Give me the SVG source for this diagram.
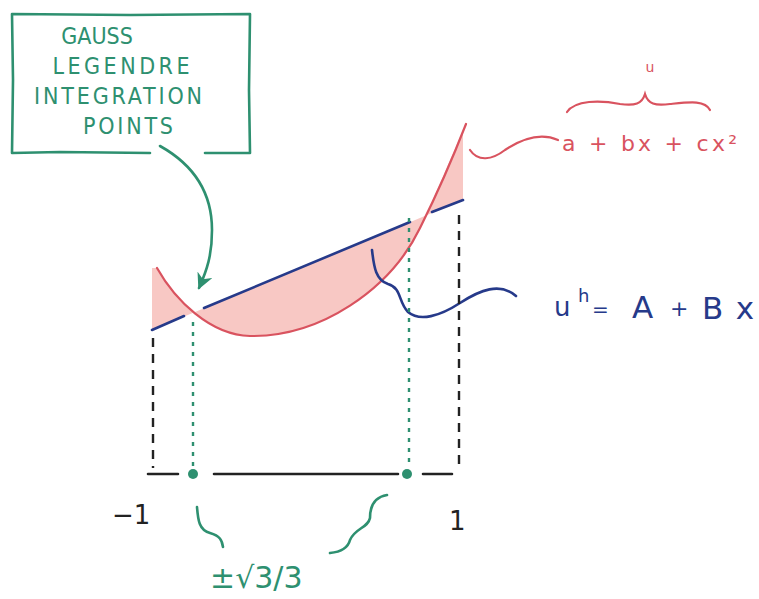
<svg xmlns="http://www.w3.org/2000/svg" width="759" height="599" viewBox="0 0 759 599">
<style>
.g{stroke:#2e9070;fill:none;stroke-width:2.6;stroke-linecap:round;stroke-linejoin:round}
.r{stroke:#d9535f;fill:none;stroke-width:2.2;stroke-linecap:round}
.b{stroke:#263a8a;fill:none;stroke-width:2.6;stroke-linecap:round}
.k{stroke:#222;fill:none;stroke-width:2.6;stroke-linecap:round}
.kd{stroke:#222;fill:none;stroke-width:2.4;stroke-dasharray:9 7}
.gd{stroke:#2e9070;fill:none;stroke-width:2.4;stroke-dasharray:4 6}
.gt{fill:#2e9070;font-family:"DejaVu Sans Condensed","DejaVu Sans",sans-serif}
.gt2{fill:#2e9070;font-family:"DejaVu Sans",sans-serif}
.rt{fill:#d9535f;font-family:"DejaVu Sans",sans-serif}
.bt{fill:#263a8a;font-family:"DejaVu Sans",sans-serif}
.kt{fill:#222;font-family:"DejaVu Sans",sans-serif}
</style>
<defs>
<marker id="ah" viewBox="0 0 10 10" refX="9" refY="5" markerWidth="16" markerHeight="16" orient="auto" markerUnits="userSpaceOnUse">
<path d="M0,0 L10,5 L0,10 L3,5 Z" fill="#2e9070"/>
</marker>
</defs>
<rect width="759" height="599" fill="#fff"/>
<g id="fill-area">
<path d="M152,268 L157,268 C175,300 210,335 250,336 C320,337 390,290 420,228 C432,203 445,172 463,130 L463,200 L152,330 Z" fill="#f8c8c4" fill-rule="evenodd" stroke="none"/>
</g>
<g id="label-box">
<path class="g" d="M150,153 L60,152 L12,153 L13,80 L12,14 L130,15 L250,14 L249,90 L250,153 L205,153"/>
<text class="gt" font-size="23" x="97" y="44" text-anchor="middle">GAUSS</text>
<text class="gt" font-size="23" x="121" y="74" text-anchor="middle" textLength="137">LEGENDRE</text>
<text class="gt" font-size="23" x="118" y="104" text-anchor="middle" textLength="168">INTEGRATION</text>
<text class="gt" font-size="23" x="128" y="134" text-anchor="middle" textLength="90">POINTS</text>
</g>
<g id="parabola">
<path class="r" d="M157,268 C175,300 210,335 250,336 C320,337 390,290 420,228 C435,198 452,160 466,124"/>
</g>
<g id="linear">
<path class="b" d="M152,330 L184,316 M204,308 L410,222 M432,212 L463,200"/>
</g>
<g id="formula-u">
<text class="rt" font-size="14" x="650" y="72" text-anchor="middle">u</text>
<text class="rt" font-size="22" x="562" y="151" textLength="175">a + bx + cx²</text>
</g>
<g id="formula-uh">
<text class="bt" font-size="26" x="554" y="316">u</text>
<text class="bt" font-size="18" x="578" y="302">h</text>
<text class="bt" font-size="20" x="592" y="316">=</text>
<text class="bt" font-size="31" x="632" y="318">A</text>
<text class="bt" font-size="22" x="670" y="316">+</text>
<text class="bt" font-size="31" x="702" y="319" textLength="52">Bx</text>
</g>
<g id="axis">
<path class="k" d="M148,474 L178,474 M214,474 L398,474 M423,474 L452,474"/>
<circle cx="193" cy="474" r="5" fill="#2e9070"/>
<circle cx="407" cy="474" r="5" fill="#2e9070"/>
<text class="kt" font-size="26" x="112" y="524">−1</text>
<text class="kt" font-size="26" x="449" y="530">1</text>
<text class="gt2" font-size="30" x="210" y="588">±√3/3</text>
</g>
<g id="connectors">
<path class="g" d="M160,146 C185,160 212,185 212,230 C212,255 207,270 199,288" marker-end="url(#ah)"/>
<path class="r" d="M470,150 C478,162 492,160 505,150 C520,140 540,132 558,140"/>
<path class="r" d="M567,112 C575,100 600,100 620,104 C635,106 642,104 645,94 C648,104 655,106 670,104 C690,102 705,100 710,110"/>
<path class="b" d="M372,250 C374,268 376,280 388,284 C402,288 398,302 408,312 C420,322 440,316 460,303 C480,290 500,282 516,296"/>
<path class="kd" d="M153,338 L153,468 M459,215 L459,466"/>
<path class="gd" d="M193,322 L193,466"/>
<path class="gd" stroke-dasharray="8 6" d="M409,218 L409,462"/>
<path class="g" d="M197,507 C198,520 199,530 210,533 C220,536 222,540 223,547"/>
<path class="g" d="M387,495 C375,497 370,505 370,518 C368,528 355,528 350,540 C348,548 340,552 330,553"/>
</g>
</svg>
